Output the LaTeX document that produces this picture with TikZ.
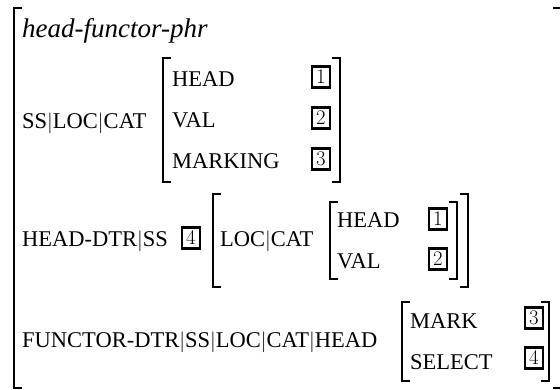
\documentclass[tikz,border=0pt]{standalone}
\usepackage{fontspec}
\setmainfont{Liberation Serif}
\usetikzlibrary{positioning}

% left x, top y, right x, bottom y of one pair of brackets
\newcommand\avmbrk[4]{%
  \draw[brk] (#1+8,#2) -- (#1,#2) -- (#1,#4) -- (#1+8,#4);
  \draw[brk] (#3-8,#2) -- (#3,#2) -- (#3,#4) -- (#3-8,#4);}
\newcommand\pbar{$|$}

\begin{document}
\begin{tikzpicture}[x=1pt,y=-1pt,font=\fontsize{22.5}{27}\selectfont]
\tikzset{feat/.style={anchor=base west,inner sep=0pt},
         tag/.style={draw,line width=2.2pt,minimum width=18pt,minimum height=21pt,
                     inner sep=0pt,font=\fontsize{22}{26}\selectfont},
         brk/.style={line width=1.4pt}}
\useasboundingbox (0,0) rectangle (560,390);
% outer matrix
\avmbrk{14}{8}{561}{388}
\node[feat,font=\fontsize{27}{31}\selectfont\itshape] (type) at (22,38) {head-functor-phr};
% SS|LOC|CAT
\node[feat] (sspath) at (22,129) {SS\pbar LOC\pbar CAT};
\avmbrk{163}{58}{340}{182}
\node[feat] (shead) at (172,87) {HEAD};
\node[feat] (sval) at (172,128) {VAL};
\node[feat] (smark) at (172,169) {MARKING};
\node[tag] (t1a) at (321,77) {$1$};
\node[tag] (t2a) at (321,118) {$2$};
\node[tag] (t3a) at (321,159) {$3$};
% HEAD-DTR
\node[feat] (hdpath) at (22,247) {HEAD-DTR\pbar SS};
\node[tag] (t4a) at (191,238) {$4$};
\avmbrk{213}{194}{468}{287}
\node[feat] (hdloc) at (220,247) {LOC\pbar CAT};
\avmbrk{330}{202}{457}{279}
\node[feat] (hdhead) at (337,228) {HEAD};
\node[feat] (hdval) at (337,269) {VAL};
\node[tag] (t1b) at (438,219) {$1$};
\node[tag] (t2b) at (438,259) {$2$};
% FUNCTOR-DTR
\node[feat] (fdpath) at (22,348) {FUNCTOR-DTR\pbar SS\pbar LOC\pbar CAT\pbar HEAD};
\avmbrk{402}{302}{549}{381}
\node[feat] (fdmark) at (410,328) {MARK};
\node[feat] (fdsel) at (410,369) {SELECT};
\node[tag] (t3b) at (534,318) {$3$};
\node[tag] (t4b) at (534,358) {$4$};
\end{tikzpicture}
\end{document}
